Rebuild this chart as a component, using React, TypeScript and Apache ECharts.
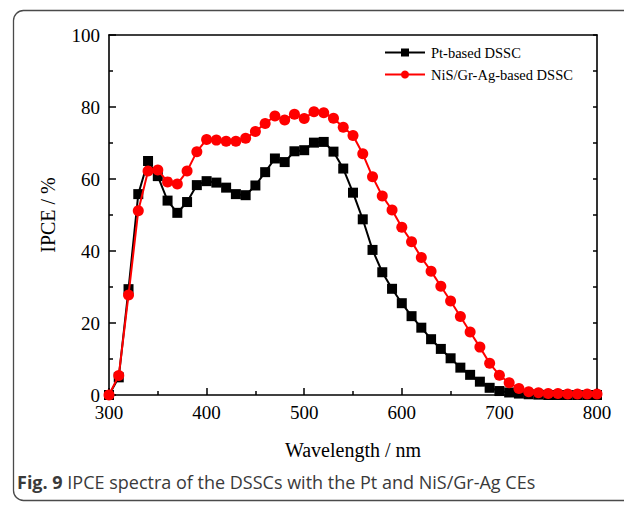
import React, { useEffect, useRef } from "react";
import * as echarts from "echarts";

const wavelengths = [
  300, 310, 320, 330, 340, 350, 360, 370, 380, 390, 400,
  410, 420, 430, 440, 450, 460, 470, 480, 490, 500,
  510, 520, 530, 540, 550, 560, 570, 580, 590, 600,
  610, 620, 630, 640, 650, 660, 670, 680, 690, 700,
  710, 720, 730, 740, 750, 760, 770, 780, 790, 800,
];

const ptIpce = [
  0, 4.9, 29.4, 55.8, 65, 60.8, 54, 50.6, 53.6, 58.3, 59.4,
  59, 57.6, 55.8, 55.5, 58.2, 61.9, 65.7, 64.7, 67.7, 68,
  70.1, 70.3, 67.6, 62.9, 56.2, 48.8, 40.3, 34.1, 29.5, 25.5,
  21.9, 18.7, 15.5, 12.8, 10.2, 7.6, 5.6, 3.7, 2.0, 1.1,
  0.7, 0.4, 0.2, 0.1, 0, 0, 0, 0, 0, 0,
];

const nisIpce = [
  0, 5.4, 27.8, 51.2, 62.2, 62.5, 59.2, 58.6, 62.2, 67.6, 71,
  70.8, 70.5, 70.5, 71.3, 73.2, 75.4, 77.5, 76.4, 78, 76.8,
  78.7, 78.4, 76.9, 74.4, 72.1, 67, 60.6, 55.3, 51.4, 46.6,
  42.6, 38.2, 34.4, 30.2, 26.1, 21.8, 17.5, 13.3, 8.8, 5.5,
  3.4, 1.8, 0.9, 0.6, 0.4, 0.4, 0.3, 0.3, 0.3, 0.3,
];

const seriesNames = ["Pt-based DSSC", "NiS/Gr-Ag-based DSSC"];
const xAxisName = "Wavelength / nm";
const yAxisName = "IPCE / %";
const captionBold = "Fig. 9";
const captionText = " IPCE spectra of the DSSCs with the Pt and NiS/Gr-Ag CEs";

const SERIF = "'Liberation Serif', 'Times New Roman', serif";
const SANS = "'Open Sans', 'Noto Sans', sans-serif";

export default function App() {
  const ref = useRef<HTMLDivElement>(null);

  useEffect(() => {
    if (!ref.current) return;
    const chart = echarts.init(ref.current, undefined, { renderer: "svg" });
    const axisLine = { show: true, onZero: false, lineStyle: { color: "#000", width: 1.6 } };

    chart.setOption({
      animation: false,
      backgroundColor: "#fff",
      grid: { left: 109, top: 35, width: 488, height: 360, containLabel: false },
      legend: {
        orient: "vertical",
        left: 384,
        top: 45,
        padding: 0,
        itemWidth: 40,
        itemHeight: 10,
        itemGap: 7,
        textStyle: { fontFamily: SERIF, fontSize: 14.5, color: "#000", padding: [0, 0, 0, 1] },
        data: seriesNames,
      },
      xAxis: [
        {
          type: "value",
          min: 300,
          max: 800,
          interval: 100,
          name: xAxisName,
          nameLocation: "middle",
          nameGap: 45,
          nameTextStyle: { fontFamily: SERIF, fontSize: 20, color: "#000" },
          axisLine,
          axisTick: { show: true, inside: true, length: 7, lineStyle: { color: "#000", width: 1.5 } },
          minorTick: { show: true, splitNumber: 2, length: 4, lineStyle: { color: "#000", width: 1.5 } },
          axisLabel: { fontFamily: SERIF, fontSize: 19, color: "#000", margin: 8 },
          splitLine: { show: false },
        },
        {
          type: "value",
          position: "top",
          min: 300,
          max: 800,
          interval: 100,
          axisLine,
          axisTick: { show: false },
          axisLabel: { show: false },
          splitLine: { show: false },
        },
      ],
      yAxis: [
        {
          type: "value",
          min: 0,
          max: 100,
          interval: 20,
          name: yAxisName,
          nameLocation: "middle",
          nameGap: 51,
          nameTextStyle: { fontFamily: SERIF, fontSize: 20, color: "#000" },
          axisLine,
          axisTick: { show: true, inside: true, length: 7, lineStyle: { color: "#000", width: 1.5 } },
          minorTick: { show: true, splitNumber: 2, length: 4, lineStyle: { color: "#000", width: 1.5 } },
          axisLabel: { fontFamily: SERIF, fontSize: 19, color: "#000", margin: 9 },
          splitLine: { show: false },
        },
        {
          type: "value",
          position: "right",
          min: 0,
          max: 100,
          interval: 10,
          axisLine,
          axisTick: { show: true, inside: true, length: 4, lineStyle: { color: "#000", width: 1.5 } },
          axisLabel: { show: false },
          splitLine: { show: false },
        },
      ],
      series: [
        {
          name: seriesNames[0],
          type: "line",
          data: wavelengths.map((w, i) => [w, ptIpce[i]]),
          symbol: "rect",
          symbolSize: 10,
          itemStyle: { color: "#000" },
          lineStyle: { color: "#000", width: 2 },
          clip: false,
          z: 2,
        },
        {
          name: seriesNames[1],
          type: "line",
          data: wavelengths.map((w, i) => [w, nisIpce[i]]),
          symbol: "circle",
          symbolSize: 11,
          itemStyle: { color: "#ff0000" },
          lineStyle: { color: "#ff0000", width: 2 },
          clip: false,
          z: 3,
        },
      ],
      graphic: [
        {
          type: "rect",
          silent: true,
          shape: { x: 13.5, y: 10.5, width: 700, height: 490, r: 10 },
          style: { fill: "none", stroke: "#4a4a4a", lineWidth: 1.3 },
          z: -1,
        },
        {
          type: "text",
          left: 17,
          top: 473,
          style: {
            text: "{b|" + captionBold + "}" + captionText,
            fontFamily: SANS,
            fontSize: 18,
            fill: "#3a3a3a",
            rich: {
              b: {
                fontFamily: SANS,
                fontSize: 18,
                fontWeight: "bold",
                fill: "#3a3a3a",
              },
            },
          },
        },
      ],
    });
    return () => chart.dispose();
  }, []);

  return (
    <div
      ref={ref}
      style={{ position: "fixed", left: 0, top: 0, width: 624, height: 505, background: "#fff" }}
    />
  );
}
